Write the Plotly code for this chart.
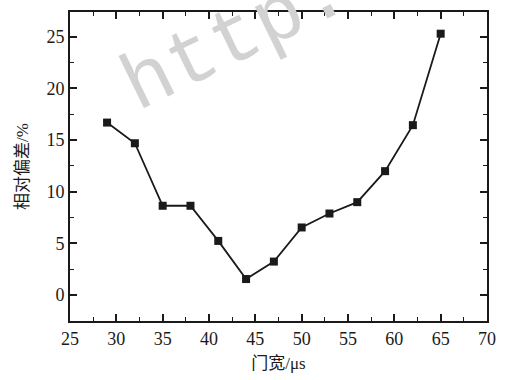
import plotly.graph_objects as go

gate_width_us = [29, 32, 35, 38, 41, 44, 47, 50, 53, 56, 59, 62, 65]
relative_deviation_pct = [16.7, 14.7, 8.65, 8.65, 5.25, 1.56, 3.25, 6.55, 7.9, 9.0, 12.0, 16.45, 25.3]

x_ticks = [25, 30, 35, 40, 45, 50, 55, 60, 65, 70]
y_ticks = [0, 5, 10, 15, 20, 25]

font_family = "Liberation Serif"
cjk_family = "Liberation Serif, Noto Sans CJK SC"
ink = "#1a1a1a"

fig = go.Figure()
fig.add_trace(go.Scatter(
    x=gate_width_us, y=relative_deviation_pct,
    mode="lines+markers",
    line=dict(color=ink, width=1.8),
    marker=dict(symbol="square", size=8, color=ink),
    showlegend=False,
))

fig.add_annotation(
    text="http.", x=0.397, y=0.911, xref="paper", yref="paper",
    xanchor="center", yanchor="middle", showarrow=False, textangle=-26,
    font=dict(family="Liberation Mono", size=80, color="#d2d2d2"),
)

axis_common = dict(
    showline=True, linecolor=ink, linewidth=1.8, mirror="ticks",
    ticks="inside", ticklen=7, tickwidth=1.5, tickcolor=ink,
    showgrid=False, zeroline=False,
    tickfont=dict(family=font_family, size=18, color=ink),
)

fig.update_xaxes(
    range=[25, 70], tickvals=x_ticks,
    minor=dict(ticks="inside", ticklen=4, tickwidth=1.2, tickcolor=ink, dtick=2.5, tick0=25),
    title=dict(text="门宽/μs", font=dict(family=cjk_family, size=17, color=ink), standoff=10),
    **axis_common,
)
fig.update_yaxes(
    range=[-2.5, 27.4], tickvals=y_ticks,
    minor=dict(ticks="inside", ticklen=4, tickwidth=1.2, tickcolor=ink, dtick=2.5, tick0=0),
    title=dict(text="相对偏差/%", font=dict(family=cjk_family, size=17, color=ink), standoff=14),
    **axis_common,
)

fig.update_layout(
    width=506, height=380,
    font=dict(family=font_family, color=ink),
    margin=dict(l=70, r=10, t=10, b=56),
    plot_bgcolor="white", paper_bgcolor="white",
)

fig.write_html(
    "out.html",
    config={"displayModeBar": False},
    post_script="document.body.style.margin='0';document.body.style.overflow='hidden';",
)
